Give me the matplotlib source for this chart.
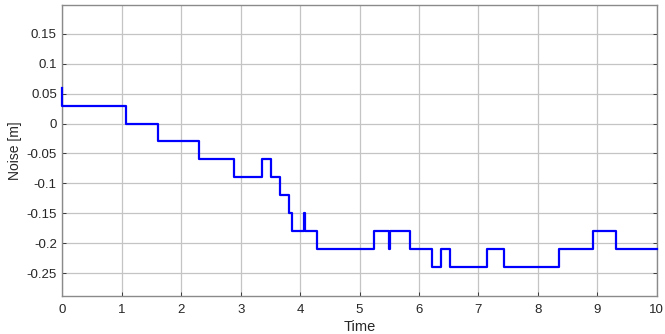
import numpy as np
import matplotlib.pyplot as plt

plt.rcParams['font.family'] = ['Liberation Sans', 'DejaVu Sans']

# breakpoints of the staircase signal (value holds until next time)
time = [0.0, 0.0, 1.076, 1.61, 2.30, 2.88, 3.36, 3.51, 3.67, 3.81, 3.87,
        4.065, 4.078, 4.28, 5.24, 5.50, 5.52, 5.85, 6.22, 6.37, 6.52,
        7.14, 7.43, 8.35, 8.93, 9.31, 10.0]
noise = [0.06, 0.03, 0.0, -0.03, -0.06, -0.09, -0.06, -0.09, -0.12, -0.15, -0.18,
         -0.15, -0.18, -0.21, -0.18, -0.21, -0.18, -0.21, -0.24, -0.21, -0.24,
         -0.21, -0.24, -0.21, -0.18, -0.21, -0.21]

xticks = np.arange(0, 11, 1)
yticks = [-0.25, -0.2, -0.15, -0.1, -0.05, 0, 0.05, 0.1, 0.15]
ytick_labels = ["-0.25", "-0.2", "-0.15", "-0.1", "-0.05", "0", "0.05", "0.1", "0.15"]

fig = plt.figure(figsize=(6.65, 3.34), dpi=100)
ax = fig.add_axes([0.0937, 0.114, 0.894, 0.871])

ax.plot(time, noise, drawstyle="steps-post", color="#0000ff", lw=1.6,
        clip_on=False, zorder=3)

ax.set_xlim(0, 10)
ax.set_ylim(-0.288, 0.198)
ax.set_xticks(xticks)
ax.set_yticks(yticks)
ax.set_yticklabels(ytick_labels)
ax.grid(True, color="#c4c4c4", lw=0.9)
ax.set_axisbelow(True)

ax.tick_params(direction="in", length=3, labelsize=9.5, colors="#262626",
               right=True, top=False, width=0.6)
ax.tick_params(axis="x", pad=6)
ax.tick_params(axis="y", pad=4)
for s in ax.spines.values():
    s.set_color("#8a8a8a")
    s.set_linewidth(1.0)
    s.set_zorder(2)

ax.set_xlabel("Time", fontsize=10.5, color="#262626", labelpad=3)
ax.set_ylabel("Noise [m]", fontsize=10, color="#262626", labelpad=3)

fig.savefig("out.png", dpi=100)
